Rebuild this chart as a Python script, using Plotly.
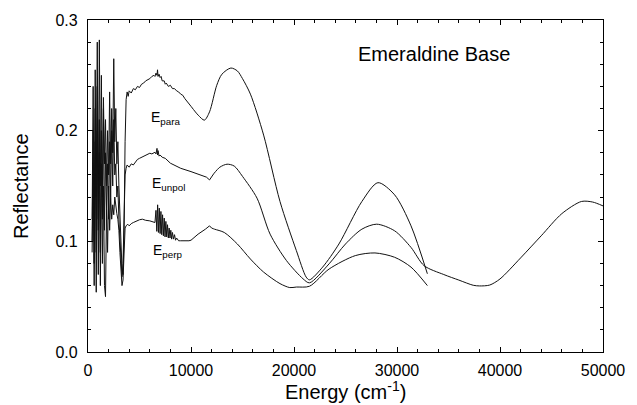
import plotly.graph_objects as go

# ---------------- data ----------------
# E_para : noisy / jagged part (linear) then smooth part (spline)
para_noise_x = [400, 500, 600, 700, 800, 900, 1000, 1100, 1200, 1300, 1400, 1500, 1600, 1700,
                1800, 1900, 2000, 2100, 2200, 2300, 2400, 2500, 2600, 2700, 2800, 2900, 3000,
                3100, 3200, 3300, 3400, 3500, 3600, 3700, 3800, 3900, 4000, 4200, 4400, 4600,
                4800, 5000, 5200, 5400, 5600, 5800, 6000, 6200, 6400, 6500, 6600, 6700, 6750,
                6800, 6900, 7000, 7100, 7200, 7400, 7500, 7600, 7800, 8000, 8200, 8400, 8600,
                8800, 9000, 9200, 9400, 9600, 9800, 10000]
para_noise_y = [0.12, 0.24, 0.10, 0.255, 0.14, 0.28, 0.12, 0.282, 0.15, 0.25, 0.14, 0.23, 0.17, 0.21,
                0.15, 0.20, 0.16, 0.235, 0.17, 0.22, 0.18, 0.265, 0.19, 0.22, 0.17, 0.19, 0.15,
                0.12, 0.09, 0.075, 0.07, 0.11, 0.19, 0.228, 0.235, 0.231, 0.236, 0.234, 0.238, 0.237,
                0.240, 0.239, 0.242, 0.243, 0.245, 0.246, 0.247, 0.249, 0.250, 0.249, 0.252, 0.250, 0.255,
                0.249, 0.251, 0.248, 0.249, 0.245, 0.245, 0.242, 0.243, 0.240, 0.241, 0.238, 0.238, 0.236,
                0.235, 0.233, 0.232, 0.229, 0.227, 0.225, 0.222]
para_x = [10000, 10700, 11300, 11800, 12500, 13000, 13870, 14500, 15000, 15770, 17050, 18640,
          20230, 21180, 21500, 22780, 24360, 26590, 28150, 29770, 31360, 32950]
para_y = [0.222, 0.214, 0.2095, 0.217, 0.241, 0.251, 0.2566, 0.254, 0.247, 0.233, 0.196, 0.136,
          0.0916, 0.0677, 0.0652, 0.0767, 0.0976, 0.136, 0.153, 0.142, 0.114, 0.0707]

# E_unpol
unpol_noise_x = [400, 500, 600, 700, 800, 900, 1000, 1100, 1200, 1300, 1400, 1500, 1600, 1700,
                 1800, 1900, 2000, 2100, 2200, 2300, 2400, 2500, 2600, 2700, 2800, 2900, 3000,
                 3100, 3200, 3300, 3400, 3500, 3600, 3700, 3800, 4000, 4200, 4400, 4600, 4800,
                 5000, 5200, 5400, 5600, 5800, 6000, 6200, 6400, 6500, 6600, 6700, 6750, 6800,
                 6900, 7000, 7200, 7500, 8000, 9000, 10000, 11000, 11500, 11800, 12200]
unpol_noise_y = [0.10, 0.20, 0.08, 0.22, 0.09, 0.24, 0.11, 0.21, 0.09, 0.20, 0.12, 0.22, 0.11, 0.18,
                 0.13, 0.17, 0.12, 0.19, 0.14, 0.20, 0.15, 0.21, 0.16, 0.17, 0.14, 0.15, 0.12,
                 0.10, 0.075, 0.068, 0.08, 0.13, 0.16, 0.166, 0.169, 0.167, 0.170, 0.169, 0.172, 0.174,
                 0.175, 0.176, 0.177, 0.178, 0.179, 0.1796, 0.179, 0.180, 0.1805, 0.179, 0.184, 0.178, 0.182,
                 0.177, 0.178, 0.176, 0.175, 0.1706, 0.166, 0.163, 0.160, 0.158, 0.1555, 0.161]
unpol_x = [12200, 12800, 13500, 14200, 15000, 16410, 17680, 19270, 20870, 21500, 23410, 25000,
           26590, 28030, 29770, 31360, 32630, 34540, 36000, 37400, 38000, 39000, 40000, 42000,
           44000, 46000, 47900, 49000, 50000]
unpol_y = [0.161, 0.167, 0.1697, 0.168, 0.1587, 0.139, 0.1065, 0.0826, 0.0662, 0.0625, 0.0797, 0.0976,
           0.111, 0.1155, 0.1095, 0.0945, 0.078, 0.070, 0.065, 0.0603, 0.0597, 0.0605, 0.066, 0.085,
           0.105, 0.125, 0.136, 0.1355, 0.132]

# E_perp
perp_noise_x = [400, 500, 600, 700, 800, 900, 1000, 1100, 1200, 1300, 1400, 1500, 1600, 1700,
                1800, 1900, 2000, 2100, 2200, 2300, 2400, 2500, 2600, 2700, 2800, 2900, 3000,
                3100, 3200, 3300, 3400, 3500, 3600, 3700, 3850, 4000, 4200, 4400, 4600, 4800,
                5000, 5280, 5600, 6000, 6300, 6500, 6600, 6680, 6760, 6840, 6920, 7000, 7080,
                7160, 7240, 7320, 7400, 7480, 7560, 7640, 7720, 7800, 7880, 7960, 8040, 8120,
                8200, 8300, 8400, 8500, 8600, 8800, 9000, 9400, 9800,
                10000, 10690, 11400, 11800, 12000]
perp_noise_y = [0.09, 0.17, 0.06, 0.19, 0.054, 0.20, 0.07, 0.18, 0.06, 0.17, 0.08, 0.15, 0.06, 0.05,
                0.13, 0.09, 0.15, 0.11, 0.14, 0.12, 0.133, 0.124, 0.14, 0.13, 0.125, 0.12, 0.11,
                0.09, 0.07, 0.06, 0.065, 0.09, 0.112, 0.114, 0.1155, 0.114, 0.116, 0.117, 0.118, 0.119,
                0.1195, 0.120, 0.119, 0.1185, 0.118, 0.117, 0.128, 0.109, 0.133, 0.108, 0.130, 0.107, 0.127,
                0.106, 0.124, 0.105, 0.121, 0.104, 0.118, 0.104, 0.115, 0.103, 0.112, 0.103, 0.110, 0.102,
                0.108, 0.102, 0.106, 0.101, 0.103, 0.1005, 0.1005, 0.1003, 0.1005,
                0.101, 0.1065, 0.111, 0.114, 0.112]
perp_x = [12000, 12280, 13230, 14500, 15770, 17050, 18640, 19590, 20230, 21500, 23410, 25950,
          27860, 29770, 31360, 32950]
perp_y = [0.112, 0.111, 0.108, 0.0976, 0.084, 0.0722, 0.0618, 0.0582, 0.0587, 0.0594, 0.075, 0.0871,
          0.0895, 0.0856, 0.0767, 0.060]

# ---------------- figure ----------------
LINE = "#111111"
FONT = "Liberation Sans, Arial, sans-serif"

fig = go.Figure()
for xs, ys, shape in [
    (para_noise_x, para_noise_y, "linear"), (para_x, para_y, "spline"),
    (unpol_noise_x, unpol_noise_y, "linear"), (unpol_x, unpol_y, "spline"),
    (perp_noise_x, perp_noise_y, "linear"), (perp_x, perp_y, "spline"),
]:
    fig.add_trace(go.Scatter(x=xs, y=ys, mode="lines",
                             line=dict(color=LINE, width=1, shape=shape, smoothing=0.8),
                             showlegend=False, hoverinfo="skip"))

axis_common = dict(showgrid=False, zeroline=False, showline=True, linecolor="black", linewidth=1.3,
                   mirror="allticks", ticks="inside", ticklen=5, tickwidth=1, tickcolor="black",
                   tickfont=dict(family=FONT, size=16, color="black"), tickmode="linear")

fig.update_xaxes(range=[0, 50000], tick0=0, dtick=10000, tickformat="d",
                 minor=dict(dtick=2000, tick0=0, ticks="inside", ticklen=3, tickcolor="black",
                            showgrid=False),
                 ticklabelstandoff=4, **axis_common)
fig.update_yaxes(range=[0, 0.3], tick0=0, dtick=0.1, tickformat=".1f",
                 minor=dict(dtick=0.02, tick0=0, ticks="inside", ticklen=3, tickcolor="black",
                            showgrid=False),
                 ticklabelstandoff=6, **axis_common)

def font(size):
    return dict(family=FONT, color="black", size=size)

fig.add_annotation(x=33600, y=0.269, xref="x", yref="y", text="Emeraldine Base",
                   showarrow=False, font=font(20))
fig.add_annotation(x=7600, y=0.2115, xref="x", yref="y", text="E<sub>para</sub>",
                   showarrow=False, font=font(14))
fig.add_annotation(x=7850, y=0.1516, xref="x", yref="y", text="E<sub>unpol</sub>",
                   showarrow=False, font=font(14))
fig.add_annotation(x=7750, y=0.0916, xref="x", yref="y", text="E<sub>perp</sub>",
                   showarrow=False, font=font(14))
fig.add_annotation(x=0.5, y=-0.117, xref="paper", yref="paper", xanchor="center", yanchor="middle",
                   text="Energy (cm<sup>-1</sup>)", showarrow=False, font=font(20))
fig.add_annotation(x=-0.13, y=0.5, xref="paper", yref="paper", xanchor="center", yanchor="middle",
                   textangle=-90, text="Reflectance", showarrow=False, font=font(20))

fig.update_layout(width=637, height=405, margin=dict(l=88, r=25, t=17, b=53),
                  paper_bgcolor="white", plot_bgcolor="white")

fig.write_html("out.html")
